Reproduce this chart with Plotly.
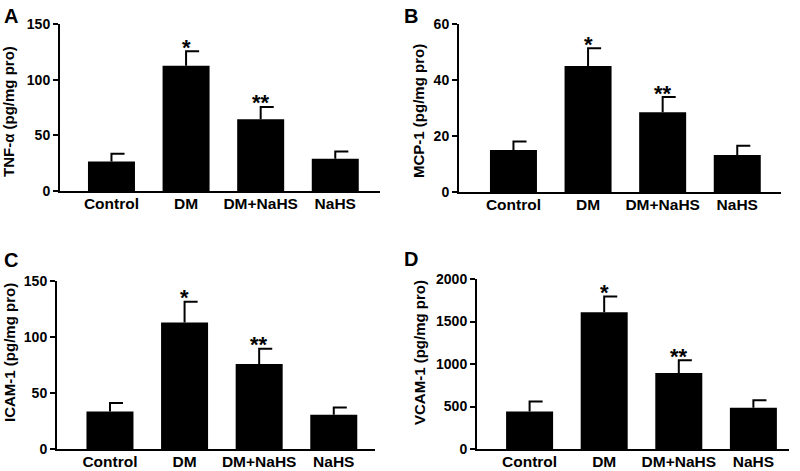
import plotly.graph_objects as go

categories = ["Control", "DM", "DM+NaHS", "NaHS"]

tnf_mean = [26.5, 112.5, 64.5, 29.0]
tnf_sem = [7.0, 13.0, 11.0, 6.5]
mcp_mean = [15.0, 45.0, 28.5, 13.2]
mcp_sem = [3.0, 6.3, 5.4, 3.3]
icam_mean = [33.5, 113.0, 76.0, 30.5]
icam_sem = [7.5, 18.5, 13.5, 6.5]
vcam_mean = [440, 1610, 895, 485]
vcam_sem = [120, 185, 150, 90]

marks = ["", "*", "**", ""]

W, H = 800, 471
FONT = "Liberation Sans, Arial, sans-serif"
S = 74.6  # px per category

panels = [
    dict(letter="A", title="TNF-α (pg/mg pro)", mean=tnf_mean, sem=tnf_sem,
         ymax=150, dtick=50, ax_x=60, y0=191, y1=24, xr=[-0.69, 3.6],
         title_x=9, title_y=112, let_x=2, let_y=3),
    dict(letter="B", title="MCP-1 (pg/mg pro)", mean=mcp_mean, sem=mcp_sem,
         ymax=60, dtick=20, ax_x=459, y0=192, y1=24, xr=[-0.73, 3.59],
         title_x=419, title_y=111, let_x=402, let_y=3),
    dict(letter="C", title="ICAM-1 (pg/mg pro)", mean=icam_mean, sem=icam_sem,
         ymax=150, dtick=50, ax_x=57, y0=449, y1=281, xr=[-0.71, 3.55],
         title_x=9, title_y=353, let_x=2, let_y=247),
    dict(letter="D", title="VCAM-1 (pg/mg pro)", mean=vcam_mean, sem=vcam_sem,
         ymax=2000, dtick=500, ax_x=477, y0=449, y1=279, xr=[-0.705, 3.48],
         title_x=419, title_y=353, let_x=402, let_y=246),
]

fig = go.Figure()
annotations = []
xs = list(range(len(categories)))
CAPW = 0.175

for k, p in enumerate(panels):
    n = k + 1
    xa = "x" if n == 1 else f"x{n}"
    ya = "y" if n == 1 else f"y{n}"
    fig.add_trace(go.Bar(x=xs, y=p["mean"], width=0.63, marker=dict(color="black", line=dict(width=0)),
                         xaxis=xa, yaxis=ya, showlegend=False))
    ex, ey = [], []
    for i, (m, e) in enumerate(zip(p["mean"], p["sem"])):
        ex += [i, i, i + CAPW, None]
        ey += [m, m + e, m + e, None]
    fig.add_trace(go.Scatter(x=ex, y=ey, mode="lines", line=dict(color="black", width=2),
                             xaxis=xa, yaxis=ya, showlegend=False, hoverinfo="skip"))
    for i, (m, e) in enumerate(zip(p["mean"], p["sem"])):
        if marks[i]:
            annotations.append(dict(x=i, y=m + e, xref=xa, yref=ya, text=marks[i], showarrow=False,
                                    yanchor="middle", yshift=4,
                                    font=dict(family=FONT, size=22, color="black", weight="bold")))
    width_px = (p["xr"][1] - p["xr"][0]) * S
    xd = [p["ax_x"] / W, min(1.0, (p["ax_x"] + width_px) / W)]
    yd = [1 - p["y0"] / H, 1 - p["y1"] / H]
    fig.layout[("xaxis" if n == 1 else f"xaxis{n}")] = dict(
        domain=xd, range=p["xr"], tickvals=xs, ticktext=categories, ticks="",
        showline=True, linecolor="black", linewidth=2, showgrid=False, zeroline=False,
        automargin=False, anchor=ya, ticklabelstandoff=-3,
        tickfont=dict(family=FONT, size=15.5, color="black", weight="bold"), fixedrange=True)
    fig.layout[("yaxis" if n == 1 else f"yaxis{n}")] = dict(
        domain=yd, range=[0, p["ymax"]], dtick=p["dtick"], tick0=0, ticks="outside", ticklen=5,
        tickwidth=2, tickcolor="black", showline=True, linecolor="black", linewidth=2,
        showgrid=False, zeroline=False, anchor=xa, automargin=False,
        tickfont=dict(family=FONT, size=14, color="black", weight="bold"), fixedrange=True)
    annotations.append(dict(x=p["title_x"] / W, y=1 - p["title_y"] / H, xref="paper", yref="paper",
                            text=p["title"], textangle=-90, showarrow=False, xanchor="center", yanchor="middle",
                            font=dict(family=FONT, size=15, color="black", weight="bold")))
    annotations.append(dict(x=p["let_x"] / W, y=1 - p["let_y"] / H, xref="paper", yref="paper",
                            text=p["letter"], showarrow=False, xanchor="left", yanchor="top",
                            font=dict(family=FONT, size=20, color="black", weight="bold")))

fig.update_layout(width=W, height=H, margin=dict(l=0, r=0, t=0, b=0, pad=0, autoexpand=False),
                  paper_bgcolor="white", plot_bgcolor="white", annotations=annotations,
                  font=dict(family=FONT, color="black"))
fig.write_html("out.html", config={"displayModeBar": False},
               post_script="document.body.style.margin='0px';document.body.style.overflow='hidden';")
